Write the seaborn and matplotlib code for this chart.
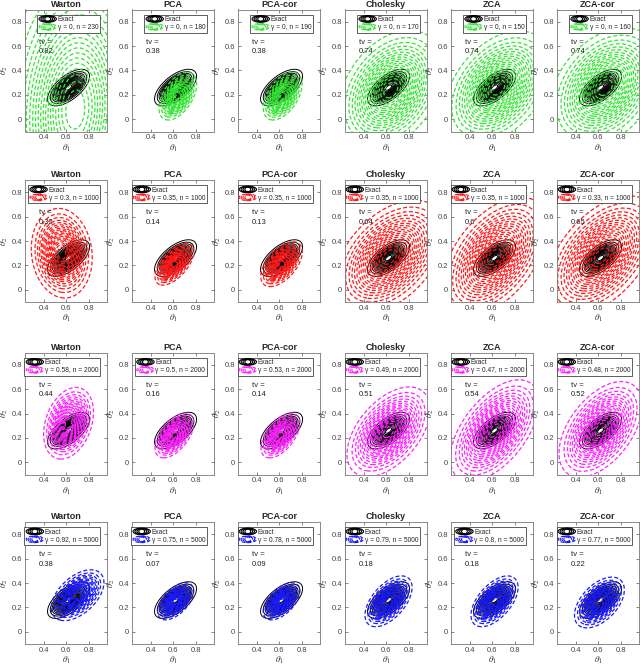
import numpy as np
import matplotlib
matplotlib.use("Agg")
import matplotlib.pyplot as plt
import seaborn as sns
from matplotlib.patches import Ellipse
from matplotlib.legend_handler import HandlerBase
from matplotlib.lines import Line2D

# ---------------- data ----------------
methods = ["Warton", "PCA", "PCA-cor", "Cholesky", "ZCA", "ZCA-cor"]
gammas = [[0, 0, 0, 0, 0, 0],
          [0.3, 0.35, 0.35, 0.35, 0.35, 0.33],
          [0.58, 0.5, 0.53, 0.49, 0.47, 0.48],
          [0.92, 0.75, 0.78, 0.79, 0.8, 0.77]]
ns = [[230, 180, 190, 170, 150, 160],
      [1000, 1000, 1000, 1000, 1000, 1000],
      [2000, 2000, 2000, 2000, 2000, 2000],
      [5000, 5000, 5000, 5000, 5000, 5000]]
tvs = [["0.82", "0.38", "0.38", "0.74", "0.74", "0.74"],
       ["0.32", "0.14", "0.13", "0.64", "0.6", "0.65"],
       ["0.44", "0.16", "0.14", "0.51", "0.54", "0.52"],
       ["0.38", "0.07", "0.09", "0.18", "0.18", "0.22"]]

# exact posterior (Gaussian summary): mean, sd, correlation
exact_mean = [0.62, 0.26]
exact_sd = [0.078, 0.063]
exact_rho = 0.62

# approximations: mean_x, mean_y, sd_x, sd_y, rho per row / method
approx_mx = [[0.68, 0.64, 0.63, 0.64, 0.65, 0.66],
             [0.56, 0.61, 0.62, 0.63, 0.62, 0.63],
             [0.62, 0.61, 0.61, 0.62, 0.62, 0.62],
             [0.70, 0.62, 0.62, 0.62, 0.62, 0.61]]
approx_my = [[0.08, 0.19, 0.19, 0.24, 0.26, 0.26],
             [0.30, 0.21, 0.21, 0.27, 0.27, 0.28],
             [0.32, 0.22, 0.22, 0.25, 0.26, 0.27],
             [0.30, 0.25, 0.25, 0.25, 0.25, 0.24]]
approx_sx = [[0.26, 0.068, 0.07, 0.19, 0.19, 0.20],
             [0.11, 0.07, 0.075, 0.20, 0.19, 0.20],
             [0.09, 0.07, 0.07, 0.15, 0.16, 0.15],
             [0.095, 0.065, 0.066, 0.085, 0.085, 0.09]]
approx_sy = [[0.50, 0.08, 0.08, 0.20, 0.19, 0.20],
             [0.15, 0.07, 0.075, 0.19, 0.20, 0.20],
             [0.12, 0.075, 0.075, 0.15, 0.17, 0.16],
             [0.085, 0.062, 0.062, 0.085, 0.085, 0.085]]
approx_rho = [[0.1, 0.5, 0.5, 0.35, 0.4, 0.35],
              [-0.1, 0.6, 0.55, 0.45, 0.5, 0.5],
              [0.3, 0.55, 0.55, 0.5, 0.55, 0.5],
              [0.5, 0.55, 0.55, 0.55, 0.55, 0.5]]

xticks = [0.4, 0.6, 0.8]
yticks = [0, 0.2, 0.4, 0.6, 0.8]
ytick_labels = ["0", "0.2", "0.4", "0.6", "0.8"]

# ---------------- style ----------------
row_colors = ["#33e633", "#ff1a1a", "#ff22ff", "#1a1aff"]
sns.set_theme(style="white")
plt.rcParams['font.family'] = ['Liberation Sans', 'DejaVu Sans']
plt.rcParams['mathtext.fontset'] = 'stix'
plt.rcParams['lines.dashed_pattern'] = (3.2, 1.8)

W, H = 640, 666
col_left = [25, 132, 238, 345, 451, 557]
row_top = [9.5, 180, 352.5, 522]
aw, ah = 82, 122
xlim = (0.235, 0.96)
ylim = (-0.1, 0.9)

gx = np.linspace(-0.2, 1.4, 320)
gy = np.linspace(-0.5, 1.3, 360)
X, Y = np.meshgrid(gx, gy)


def gauss(mx, my, sx, sy, rho):
    zx = (X - mx) / sx
    zy = (Y - my) / sy
    q = (zx ** 2 - 2 * rho * zx * zy + zy ** 2) / (1 - rho ** 2)
    return np.exp(-q / 2)


class EllipseHandler(HandlerBase):
    def __init__(self, color, ls):
        super().__init__()
        self.color = color
        self.ls = ls

    def create_artists(self, legend, orig_handle, xdescent, ydescent,
                       width, height, fontsize, trans):
        cx = width / 2 - xdescent
        cy = height / 2 - ydescent
        arts = []
        for s in [1.0, 0.78, 0.56, 0.34]:
            e = Ellipse((cx, cy), width * s, height * 1.2 * (0.5 + 0.5 * s),
                        fill=False, edgecolor=self.color, linestyle=self.ls,
                        linewidth=0.8, transform=trans)
            arts.append(e)
        return arts


fig = plt.figure(figsize=(W / 100, H / 100), dpi=100)

Ze = gauss(exact_mean[0], exact_mean[1], exact_sd[0], exact_sd[1], exact_rho)
exact_levels = np.arange(1, 17) / 17.0
approx_levels = np.arange(1, 20) / 20.0

for r in range(4):
    for c in range(6):
        ax = fig.add_axes([col_left[c] / W, 1 - (row_top[r] + ah) / H, aw / W, ah / H])
        col = row_colors[r]
        ax.contour(X, Y, Ze, levels=exact_levels, colors="black", linewidths=0.7)
        Za = gauss(approx_mx[r][c], approx_my[r][c], approx_sx[r][c],
                   approx_sy[r][c], approx_rho[r][c])
        ax.contour(X, Y, Za, levels=approx_levels * Za.max(), colors=col,
                   linewidths=0.9, linestyles="dashed")
        ax.set_xlim(*xlim)
        ax.set_ylim(*ylim)
        ax.set_xticks(xticks)
        ax.set_xticklabels([f"{t:g}" for t in xticks])
        ax.set_yticks(yticks)
        ax.set_yticklabels(ytick_labels)
        ax.tick_params(direction="in", length=2, width=0.5, labelsize=5.5,
                       colors="#555555", labelcolor="#444444", pad=2,
                       top=True, right=True, bottom=True, left=True)
        for sp in ax.spines.values():
            sp.set_color("#777777")
            sp.set_linewidth(0.6)
        ax.set_xlabel(r"$\theta_1$", fontsize=6.5, labelpad=1, color="#333333")
        ax.set_ylabel(r"$\theta_2$", fontsize=6.5, labelpad=1, color="#333333")
        ax.set_title(methods[c], fontsize=6.5, fontweight="bold", pad=2)
        ax.text(0.36, 0.63, "tv =", fontsize=5.5, va="center", ha="left", color="#222222")
        ax.text(0.36, 0.555, tvs[r][c], fontsize=5.5, va="center", ha="left", color="#222222")

        h1 = Line2D([], [], color="black")
        h2 = Line2D([], [], color=col, ls="--")
        lab = f"\u03b3 = {gammas[r][c]:g}, n = {ns[r][c]}"
        leg = ax.legend([h1, h2], ["Exact", lab], loc="upper right",
                        bbox_to_anchor=(1 - 7 / aw, 1 - 5 / ah), borderaxespad=0,
                        fontsize=4.8, handlelength=2.6, handleheight=0.9,
                        handletextpad=0.2, borderpad=0.25, labelspacing=0.12,
                        frameon=True, fancybox=False, framealpha=1,
                        edgecolor="#444444",
                        handler_map={h1: EllipseHandler("black", "-"),
                                     h2: EllipseHandler(col, "--")})
        leg.get_frame().set_linewidth(0.6)

fig.savefig("out.png", dpi=100)
